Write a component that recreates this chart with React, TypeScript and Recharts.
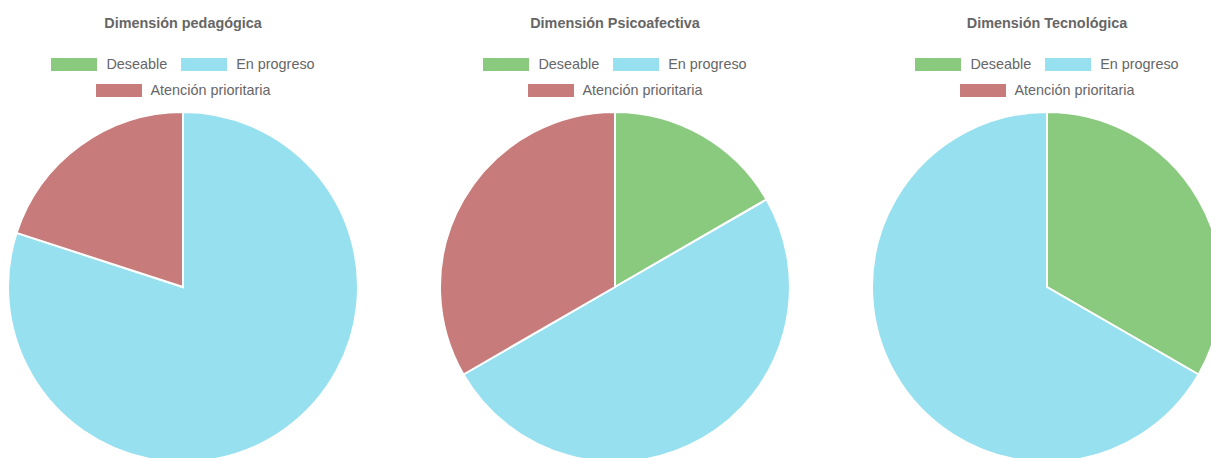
import { PieChart, Pie, Cell } from 'recharts';

const categories = ['Deseable', 'En progreso', 'Atención prioritaria'];
const colors = ['#8aca7e', '#97e0ef', '#c77b7a'];

const titles = ['Dimensión pedagógica', 'Dimensión Psicoafectiva', 'Dimensión Tecnológica'];
const pedagogica = [0, 4, 1];
const psicoafectiva = [1, 3, 2];
const tecnologica = [1, 2, 0];

const font = '"Liberation Sans", Arial, sans-serif';

function LegendBox() {
  const item = (i: number) => (
    <div key={i} style={{ display: 'flex', alignItems: 'center', margin: '0 7px' }}>
      <div style={{ width: 46, height: 13, background: colors[i], marginRight: 9 }} />
      <span>{categories[i]}</span>
    </div>
  );
  return (
    <div
      style={{
        position: 'absolute', top: 51, left: 0, width: 366,
        fontFamily: font, fontSize: 14.4, color: '#666', lineHeight: '17px',
      }}
    >
      <div style={{ display: 'flex', justifyContent: 'center', height: 26, alignItems: 'center' }}>
        {[0, 1].map(item)}
      </div>
      <div style={{ display: 'flex', justifyContent: 'center', height: 26, alignItems: 'center' }}>
        {[2].map(item)}
      </div>
    </div>
  );
}

function DimensionPie({ title, values, left }: { title: string; values: number[]; left: number }) {
  const data = categories.map((name, i) => ({ name, value: values[i] }));
  return (
    <div style={{ position: 'absolute', left, top: 0, width: 366, height: 458 }}>
      <PieChart width={366} height={470} margin={{ top: 0, right: 0, bottom: 0, left: 0 }} style={{ position: 'absolute', top: 0, left: 0 }}>
        <Pie
          data={data}
          dataKey="value"
          nameKey="name"
          cx={183}
          cy={287}
          outerRadius={175}
          startAngle={90}
          endAngle={-270}
          stroke="#fff"
          strokeWidth={2}
          isAnimationActive={false}
        >
          {data.map((d, i) => (
            <Cell key={d.name} fill={colors[i]} />
          ))}
        </Pie>
      </PieChart>
      <div
        style={{
          position: 'absolute', top: 14, left: 0, width: 366, textAlign: 'center',
          fontFamily: font, fontSize: 14.4, fontWeight: 'bold', color: '#666', lineHeight: '18px',
        }}
      >
        {title}
      </div>
      <LegendBox />
    </div>
  );
}

export default function App() {
  return (
    <div style={{ position: 'absolute', left: 0, top: 0, width: 1211, height: 458, overflow: 'hidden', background: '#fff' }}>
      <DimensionPie title={titles[0]} values={pedagogica} left={0} />
      <DimensionPie title={titles[1]} values={psicoafectiva} left={432} />
      <DimensionPie title={titles[2]} values={tecnologica} left={864} />
    </div>
  );
}
